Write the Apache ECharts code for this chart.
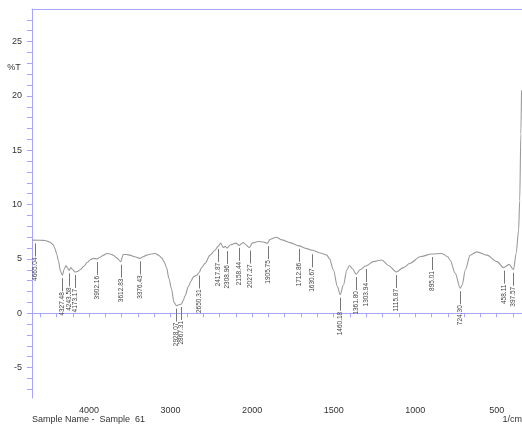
<!DOCTYPE html>
<html>
<head>
<meta charset="utf-8">
<script src="https://cdn.jsdelivr.net/npm/echarts@6/dist/echarts.min.js"></script>
<style>html,body{margin:0;padding:0;background:#fff}#c{width:522px;height:428px}</style>
</head>
<body>
<div id="c"></div>
<script>
// Spectrum: wavenumber (1/cm) and %T
const wavenumbers = [4700,4600,4540,4480,4440,4418,4395,4377,4350,4327,4305,4283,4265,4244,4225,4205,4173,4140,4110,4060,4021,3980,3948,3902,3866,3820,3783,3740,3706,3660,3613,3580,3540,3498,3440,3376,3340,3293,3240,3191,3150,3110,3080,3050,3020,2991,2958,2928,2900,2867,2845,2823,2782,2750,2721,2679,2650,2620,2577,2516,2455,2418,2385,2355,2330,2309,2265,2200,2158,2110,2060,2040,2027,2000,1962,1930,1906,1890,1853,1818,1767,1713,1665,1631,1583,1542,1525,1502,1477,1460,1440,1419,1403,1385,1362,1338,1304,1256,1205,1164,1116,1072,1031,970,898,837,800,786,755,724,712,692,663,622,560,499,458,424,397,381,366,359,352,348];
const transmittance = [6.73,6.72,6.7,6.55,6.3,5.95,5.4,4.85,3.85,3.5,4.05,4.4,4.15,3.95,4.2,4.05,3.8,3.85,4.0,4.35,4.7,4.95,5.05,5.0,5.15,5.35,5.5,5.45,5.35,5.1,4.75,5.4,5.4,5.35,5.2,5.05,5.2,5.35,5.45,5.5,5.35,5.1,4.75,4.2,3.2,2.3,1.0,0.7,0.78,0.85,1.2,1.6,2.45,2.95,3.35,3.5,3.75,4.2,4.6,5.35,5.8,6.15,6.45,6.05,6.15,6.0,6.3,6.45,6.25,6.5,6.2,6.05,6.1,6.45,6.6,6.55,6.45,6.8,7.0,6.75,6.5,6.2,5.95,5.8,5.55,5.35,5.0,4.0,2.45,1.7,2.6,4.0,4.4,4.1,3.6,4.0,4.35,4.75,4.9,4.4,3.8,4.2,4.6,5.2,5.45,5.5,5.2,4.9,3.7,2.3,2.6,4.0,5.35,5.65,5.35,4.75,4.2,4.5,4.0,5.5,7.6,10.4,16.5,20.5];

// Peak picks
const peakLabels = ['4665.04','4327.48','4243.58','4173.17','3902.16','3612.83','3376.43','2928.07','2867.31','2650.31','2417.87','2308.96','2158.44','2027.27','1905.75','1712.86','1630.67','1460.18','1361.80','1303.94','1115.87','895.01','724.30','458.11','397.57'];
const peakT = [6.7,3.5,3.95,3.8,5.0,4.75,5.05,0.7,0.85,3.75,6.2,6.0,6.3,6.05,6.45,6.2,5.7,1.7,3.6,4.35,3.8,5.45,2.3,4.2,4.0];

// Axis
const xTickLabels = [4000,3000,2000,1500,1000,500];
const yTickLabels = [-5,0,5,10,15,20,25];
const xRange = [4700, 345];
const yRange = [-7.8, 28];

// Shimadzu style scale: half compression above 2000 1/cm
function toT(wn){ return wn > 2000 ? 2000 + (wn - 2000) / 2 : wn; }
function fromT(t){ return t > 2000 ? 2000 + (t - 2000) * 2 : t; }

const lineData = wavenumbers.map((w, i) => [toT(w), transmittance[i]]);
const peakData = peakLabels.map((s, i) => [toT(parseFloat(s)), peakT[i]]);

const xMinorTicks = [];
for (let t = 400; t <= 3300; t += 100) xMinorTicks.push(t);
const yMinorTicks = [];
for (let v = -7; v <= 27; v += 1) yMinorTicks.push(v);

const axisCol = '#a6a6ff';
const font = 'Liberation Sans, Arial, sans-serif';

const chart = echarts.init(document.getElementById('c'), null, {renderer: 'canvas'});
chart.setOption({
  animation: false,
  backgroundColor: '#fff',
  grid: {left: 32, right: 0, top: 9, bottom: 30},
  xAxis: [{
    type: 'value',
    inverse: true,
    min: toT(xRange[1]),
    max: toT(xRange[0]),
    axisLine: {show: true, lineStyle: {color: axisCol, width: 1}},
    axisTick: {show: true, length: 4, lineStyle: {color: axisCol}, customValues: xMinorTicks},
    axisLabel: {
      show: true, margin: 8, color: '#333', fontSize: 9, fontFamily: font,
      customValues: xTickLabels.map(toT),
      formatter: v => String(Math.round(fromT(v)))
    },
    splitLine: {show: false}
  }, {
    type: 'value', position: 'top', inverse: true,
    min: toT(xRange[1]), max: toT(xRange[0]),
    axisLine: {show: true, lineStyle: {color: axisCol, width: 1}},
    axisTick: {show: false}, axisLabel: {show: false}, splitLine: {show: false}
  }],
  yAxis: {
    type: 'value',
    min: yRange[0], max: yRange[1],
    axisLine: {show: true, lineStyle: {color: axisCol, width: 1}},
    axisTick: {show: true, length: 5, lineStyle: {color: axisCol}, customValues: yMinorTicks},
    axisLabel: {show: true, margin: 10, color: '#333', fontSize: 9, fontFamily: font, customValues: yTickLabels},
    splitLine: {show: false}
  },
  graphic: [
    {type: 'text', x: 14, y: 68, style: {text: '%T', fill: '#333', font: '9px ' + font, align: 'center', verticalAlign: 'middle'}},
    {type: 'text', x: 32, y: 420, style: {text: 'Sample Name -  Sample  61', fill: '#333', font: '9px ' + font, align: 'left', verticalAlign: 'middle'}},
    {type: 'text', x: 522, y: 420, style: {text: '1/cm', fill: '#333', font: '9px ' + font, align: 'right', verticalAlign: 'middle'}}
  ],
  series: [{
    type: 'line',
    data: lineData,
    showSymbol: false,
    smooth: 0.3,
    smoothMonotone: 'x',
    lineStyle: {color: '#9a9a9a', width: 1.1},
    clip: true
  }, {
    type: 'custom',
    data: peakData,
    clip: false,
    renderItem: function (params, api) {
      const p = api.coord([api.value(0), api.value(1)]);
      const x = Math.round(p[0]) + 0.5;
      return {
        type: 'group',
        children: [
          {type: 'line', shape: {x1: x, y1: p[1] + 3, x2: x, y2: p[1] + 16}, style: {stroke: '#777', lineWidth: 1}},
          {type: 'text', x: x, y: p[1] + 17, rotation: Math.PI / 2,
           style: {text: peakLabels[params.dataIndex], fill: '#444', font: '6.5px ' + font, align: 'right', verticalAlign: 'middle'}}
        ]
      };
    }
  }]
});
</script>
</body>
</html>
